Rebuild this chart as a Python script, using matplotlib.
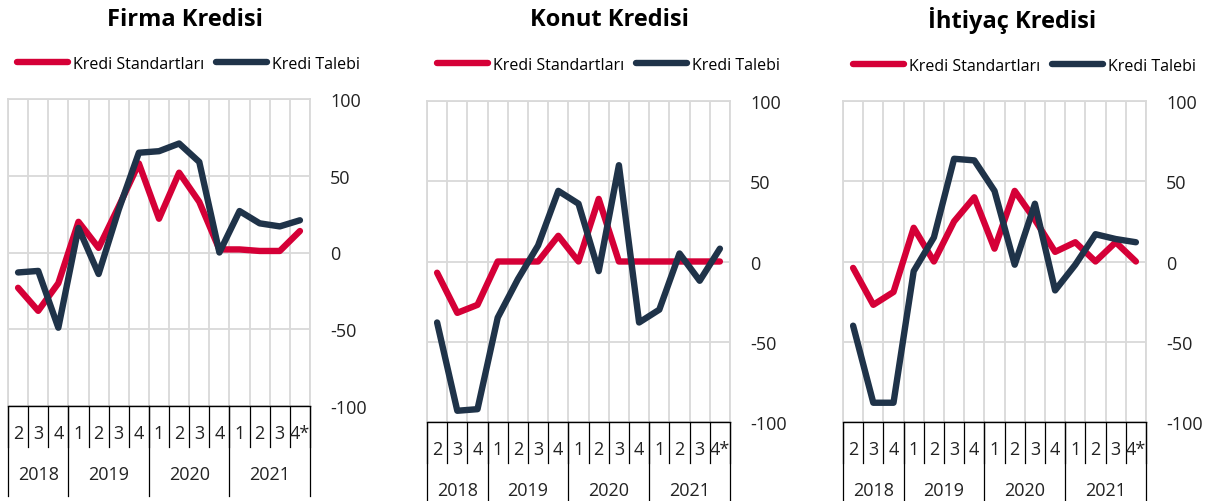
import numpy as np
import matplotlib.pyplot as plt
from matplotlib.lines import Line2D

plt.rcParams['font.family'] = ['Open Sans', 'DejaVu Sans']
plt.rcParams['axes.unicode_minus'] = False

quarters = ['2', '3', '4', '1', '2', '3', '4', '1', '2', '3', '4', '1', '2', '3', '4*']
years = ['2018', '2019', '2020', '2021']
year_spans = [3, 4, 4, 4]

titles = ['Firma Kredisi', 'Konut Kredisi', 'İhtiyaç Kredisi']

firma_standart = [-23, -38, -20, 20, 3, 30, 58, 22, 52, 33, 2, 2, 1, 1, 14]
firma_talep = [-13, -12, -49, 16, -14, 28, 65, 66, 71, 59, 0, 27, 19, 17, 21]

konut_standart = [-7, -32, -27, 0, 0, 0, 16, 0, 39, 0, 0, 0, 0, 0, 0]
konut_talep = [-38, -93, -92, -35, -11, 10, 44, 36, -6, 60, -38, -30, 5, -12, 8]

ihtiyac_standart = [-4, -27, -19, 21, 0, 25, 40, 8, 44, 26, 6, 12, 0, 12, 0]
ihtiyac_talep = [-40, -88, -88, -6, 15, 64, 63, 44, -2, 36, -18, -2, 17, 14, 12]

series = [(firma_standart, firma_talep),
          (konut_standart, konut_talep),
          (ihtiyac_standart, ihtiyac_talep)]

red = '#d50037'
navy = '#1f3349'
grid = '#d9d9d9'

W, H = 1216, 502
fig = plt.figure(figsize=(W / 100, H / 100), dpi=100)

# axes boxes in pixels: left, right, top, bottom
boxes = [(8, 310, 100, 407), (427, 730, 102, 423), (843, 1146, 102, 423)]
title_x = [185, 609, 1012]
legend_pos = [(17, 65), (437, 66), (853, 67)]

for k, (l, r, t, b) in enumerate(boxes):
    ax = fig.add_axes([l / W, 1 - b / H, (r - l) / W, (b - t) / H])
    ah = b - t
    std, dem = series[k]
    x = np.arange(len(quarters))
    ax.plot(x, std, color=red, lw=4.6, solid_joinstyle='round', solid_capstyle='round')
    ax.plot(x, dem, color=navy, lw=4.6, solid_joinstyle='round', solid_capstyle='round')

    ax.set_xlim(-0.5, len(quarters) - 0.5)
    ax.set_ylim(-100, 100)
    ax.set_xticks(np.arange(-0.5, len(quarters)))
    ax.set_xticklabels([])
    ax.set_yticks([-100, -50, 0, 50, 100])
    ax.yaxis.tick_right()
    ax.tick_params(axis='y', length=0, pad=14.4, labelsize=13, labelcolor='#222222')
    ax.tick_params(axis='x', length=0)
    ax.grid(True, color=grid, lw=1.3)
    ax.set_axisbelow(True)
    for s in ['top', 'left', 'right']:
        ax.spines[s].set_color(grid)
        ax.spines[s].set_linewidth(1.3)
    ax.spines['bottom'].set_color('black')
    ax.spines['bottom'].set_linewidth(1.0)

    # category table below the plot
    tr = ax.get_xaxis_transform()
    q_h = 41 / ah
    y_h = 90 / ah
    for i in range(len(quarters) + 1):
        ax.plot([i - 0.5, i - 0.5], [0, -q_h], transform=tr, color='black', lw=0.9, clip_on=False)
    edges = np.concatenate([[0], np.cumsum(year_spans)])
    for e in edges:
        ax.plot([e - 0.5, e - 0.5], [0, -y_h], transform=tr, color='black', lw=0.9, clip_on=False)
    for i, q in enumerate(quarters):
        ax.text(i, -27 / ah, q, transform=tr, ha='center', va='center', fontsize=13, color='#222222')
    for j, yr in enumerate(years):
        c = (edges[j] + edges[j + 1] - 1) / 2
        ax.text(c, -68 / ah, yr, transform=tr, ha='center', va='center', fontsize=13, color='#222222')

    fig.text(title_x[k] / W, 1 - 20 / H, titles[k], ha='center', va='center',
             fontsize=17, fontweight='bold', color='black')

    handles = [Line2D([], [], color=red, lw=4.6, solid_capstyle='round'),
               Line2D([], [], color=navy, lw=4.6, solid_capstyle='round')]
    lx, ly = legend_pos[k]
    fig.legend(handles, ['Kredi Standartları', 'Kredi Talebi'], loc='center left',
               bbox_to_anchor=(lx / W, 1 - ly / H), ncol=2, frameon=False,
               fontsize=11.5, handlelength=3.2, handletextpad=0.3, columnspacing=0.75,
               borderpad=0, borderaxespad=0)

fig.savefig('out.png', dpi=100)
plt.close(fig)
